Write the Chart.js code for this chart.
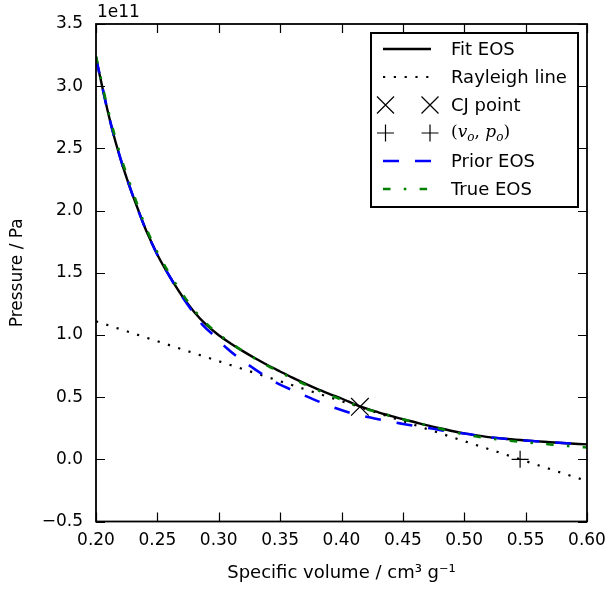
<!DOCTYPE html>
<html><head><meta charset="utf-8">
<script src="https://cdn.jsdelivr.net/npm/chart.js@4.4.0/dist/chart.umd.min.js"></script>
<style>html,body{margin:0;padding:0;background:#fff;}</style>
</head><body>
<canvas id="c" width="610" height="589"></canvas>
<script>
// ---- data (pressure in units of 1e11 Pa) ----
const vFit = [0.200,0.205,0.210,0.215,0.220,0.225,0.230,0.235,0.240,0.245,0.250,0.260,0.270,0.280,0.290,0.300,0.310,0.320,0.330,0.340,0.350,0.360,0.370,0.380,0.390,0.400,0.415,0.430,0.440,0.450,0.460,0.470,0.480,0.490,0.500,0.510,0.520,0.535,0.550,0.565,0.580,0.600];
const pFit = [3.23,3.00,2.78,2.585,2.415,2.26,2.12,1.99,1.86,1.75,1.645,1.47,1.315,1.185,1.08,0.998,0.93,0.868,0.81,0.756,0.706,0.657,0.611,0.567,0.527,0.489,0.426,0.378,0.35,0.323,0.298,0.273,0.25,0.228,0.208,0.192,0.178,0.163,0.151,0.141,0.131,0.12];

const vRayleigh = [0.20, 0.60];
const pRayleigh = [1.11, -0.175];

const vCJ = [0.415];
const pCJ = [0.422];

const vInit = [0.5455];
const pInit = [0.0];

const vPrior = [0.200,0.210,0.220,0.230,0.240,0.250,0.260,0.270,0.280,0.2874,0.297,0.3064,0.316,0.3268,0.3369,0.350,0.3586,0.370,0.3825,0.3974,0.4096,0.4227,0.4347,0.4477,0.460,0.4735,0.487,0.500,0.520,0.550,0.580,0.600];
const pPrior = [3.23,2.78,2.415,2.12,1.86,1.645,1.47,1.31,1.17,1.074,0.988,0.895,0.818,0.742,0.675,0.60,0.562,0.513,0.46,0.404,0.366,0.338,0.312,0.289,0.268,0.248,0.224,0.207,0.178,0.151,0.131,0.12];

const vTrue = [0.200,0.210,0.220,0.230,0.240,0.250,0.260,0.270,0.280,0.290,0.300,0.310,0.320,0.330,0.340,0.350,0.360,0.370,0.380,0.390,0.400,0.415,0.430,0.440,0.450,0.460,0.470,0.480,0.490,0.500,0.510,0.520,0.535,0.550,0.565,0.580,0.600];
const pTrue = [3.24,2.80,2.44,2.15,1.88,1.665,1.49,1.335,1.20,1.09,1.005,0.935,0.868,0.808,0.752,0.70,0.65,0.603,0.558,0.518,0.48,0.422,0.376,0.348,0.322,0.297,0.272,0.247,0.223,0.201,0.184,0.169,0.151,0.137,0.124,0.111,0.095];

const seriesNames = ['Fit EOS', 'Rayleigh line', 'CJ point', '(v_o, p_o)', 'Prior EOS', 'True EOS'];
const xTicks = [0.20,0.25,0.30,0.35,0.40,0.45,0.50,0.55,0.60];
const yTicks = [-0.5,0.0,0.5,1.0,1.5,2.0,2.5,3.0,3.5];
const offsetText = '1e11';
const xTitle = 'Specific volume / cm\u00B3 g\u207B\u00B9';
const yTitle = 'Pressure / Pa';

const pts = (xs, ys) => xs.map((x, i) => ({x: x, y: ys[i]}));
const FONT = 'DejaVu Sans';

const dsStyle = [
  {color:'#000000', width:2.4, dash:[]},
  {color:'#000000', width:2.2, dash:[2.2,8.6]},
  null, null,
  {color:'#0000ff', width:2.6, dash:[16,16]},
  {color:'#008000', width:2.6, dash:[7.5,13.3,2.5,13.3]}
];

function drawX(ctx, cx, cy, r){ ctx.moveTo(cx-r,cy-r); ctx.lineTo(cx+r,cy+r); ctx.moveTo(cx-r,cy+r); ctx.lineTo(cx+r,cy-r); }
function drawPlus(ctx, cx, cy, r){ ctx.moveTo(cx-r,cy); ctx.lineTo(cx+r,cy); ctx.moveTo(cx,cy-r); ctx.lineTo(cx,cy+r); }

const framePlugin = {
  id: 'frame',
  afterDraw(chart){
    const {ctx, chartArea: a, scales: {x, y}} = chart;
    ctx.save();
    ctx.strokeStyle = '#000';
    ctx.lineWidth = 1.2;
    ctx.setLineDash([]);
    ctx.beginPath();
    const TL = 9;
    x.ticks.forEach(t => { const px = Math.round(x.getPixelForValue(t.value)) + 0.5;
      ctx.moveTo(px, a.bottom); ctx.lineTo(px, a.bottom - TL);
      ctx.moveTo(px, a.top); ctx.lineTo(px, a.top + TL); });
    y.ticks.forEach(t => { const py = Math.round(y.getPixelForValue(t.value)) + 0.5;
      ctx.moveTo(a.left, py); ctx.lineTo(a.left + TL, py);
      ctx.moveTo(a.right, py); ctx.lineTo(a.right - TL, py); });
    ctx.stroke();
    ctx.lineWidth = 1.8;
    ctx.strokeRect(a.left, a.top, a.right - a.left, a.bottom - a.top);

    // offset text
    ctx.fillStyle = '#000';
    ctx.font = '17px "' + FONT + '"';
    ctx.textBaseline = 'alphabetic';
    ctx.textAlign = 'left';
    ctx.fillText(offsetText, a.left + 1, a.top - 7.5);

    // legend
    const bx = 371, by = 33, bw = 207, bh = 174;
    ctx.fillStyle = '#fff';
    ctx.fillRect(bx, by, bw, bh);
    ctx.lineWidth = 2;
    ctx.strokeStyle = '#000';
    ctx.strokeRect(bx, by, bw, bh);
    const rows = [49, 77, 105, 133, 161, 189];
    const x0 = 383, x1 = 430, tx = 451;
    seriesNames.forEach((name, i) => {
      const yy = rows[i];
      ctx.save();
      if (dsStyle[i]) {
        const s = dsStyle[i];
        ctx.strokeStyle = s.color; ctx.lineWidth = s.width; ctx.setLineDash(s.dash);
        ctx.beginPath(); ctx.moveTo(x0, yy); ctx.lineTo(x1 + 1, yy); ctx.stroke();
      } else {
        ctx.strokeStyle = '#000'; ctx.lineWidth = 1.2; ctx.setLineDash([]);
        ctx.beginPath();
        if (i === 2) { drawX(ctx, 385.5, yy, 8.5); drawX(ctx, 430, yy, 8.5); }
        else { drawPlus(ctx, 385.5, yy, 8.5); drawPlus(ctx, 430, yy, 8.5); }
        ctx.stroke();
      }
      ctx.restore();
      ctx.fillStyle = '#000';
      ctx.textBaseline = 'middle';
      ctx.textAlign = 'left';
      if (i === 3) {
        // math-style label (v_o, p_o)
        const segs = [
          {t:'(', f:'17px "DejaVu Serif"', dy:0},
          {t:'v', f:'italic 17px "DejaVu Serif"', dy:0},
          {t:'o', f:'italic 12px "DejaVu Serif"', dy:4.5},
          {t:', ', f:'17px "DejaVu Serif"', dy:0},
          {t:'p', f:'italic 17px "DejaVu Serif"', dy:0},
          {t:'o', f:'italic 12px "DejaVu Serif"', dy:4.5},
          {t:')', f:'17px "DejaVu Serif"', dy:0}
        ];
        let cx = tx;
        segs.forEach(s => { ctx.font = s.f; ctx.fillText(s.t, cx, yy + s.dy); cx += ctx.measureText(s.t).width; });
      } else {
        ctx.font = '18px "' + FONT + '"';
        ctx.fillText(name, tx, yy + 1);
      }
    });
    ctx.restore();
  }
};

const tickFont = {family: FONT, size: 17};
const xTitleFont = {family: FONT, size: 18};
const fmtY = v => (v < 0 ? '\u2212' + Math.abs(v).toFixed(1) : v.toFixed(1));

new Chart(document.getElementById('c'), {
  type: 'scatter',
  data: {
    datasets: [
      {label: seriesNames[0], data: pts(vFit, pFit), showLine: true, borderColor: '#000', borderWidth: 2.4, pointRadius: 0, cubicInterpolationMode: 'monotone', order: 6},
      {label: seriesNames[1], data: pts(vRayleigh, pRayleigh), showLine: true, borderColor: '#000', borderWidth: 2.2, borderDash: [2.2, 8.6], pointRadius: 0, order: 5},
      {label: seriesNames[2], data: pts(vCJ, pCJ), showLine: false, pointStyle: 'crossRot', pointRadius: 12.5, borderColor: '#000', backgroundColor: '#000', pointBorderWidth: 1.2, order: 4},
      {label: seriesNames[3], data: pts(vInit, pInit), showLine: false, pointStyle: 'cross', pointRadius: 8.5, borderColor: '#000', backgroundColor: '#000', pointBorderWidth: 1.2, order: 3},
      {label: seriesNames[4], data: pts(vPrior, pPrior), showLine: true, borderColor: '#0000ff', borderWidth: 2.6, borderDash: [16, 16], pointRadius: 0, cubicInterpolationMode: 'monotone', order: 2},
      {label: seriesNames[5], data: pts(vTrue, pTrue), showLine: true, borderColor: '#008000', borderWidth: 2.6, borderDash: [7.5, 13.3, 2.5, 13.3], pointRadius: 0, cubicInterpolationMode: 'monotone', order: 1}
    ]
  },
  options: {
    responsive: false,
    animation: false,
    devicePixelRatio: 1,
    layout: {padding: {top: 24, right: 23, left: 0, bottom: 0}},
    plugins: {legend: {display: false}, tooltip: {enabled: false}},
    scales: {
      x: {
        type: 'linear', min: 0.2, max: 0.6,
        afterBuildTicks: s => { s.ticks = xTicks.map(v => ({value: v})); },
        ticks: {callback: v => v.toFixed(2), font: tickFont, color: '#000', padding: 9, maxRotation: 0, autoSkip: false},
        grid: {display: false, drawTicks: false},
        border: {display: false},
        title: {display: true, text: xTitle, font: xTitleFont, color: '#000', padding: {top: 0, bottom: 4.5}},
        afterFit: s => { s.height = 67.5; s.paddingLeft = 0; s.paddingRight = 0; }
      },
      y: {
        type: 'linear', min: -0.5, max: 3.5,
        afterBuildTicks: s => { s.ticks = yTicks.map(v => ({value: v})); },
        ticks: {callback: v => fmtY(v), font: tickFont, color: '#000', padding: 13, autoSkip: false},
        grid: {display: false, drawTicks: false},
        border: {display: false},
        title: {display: true, text: yTitle, font: tickFont, color: '#000', padding: {top: 7, bottom: 0}},
        afterFit: s => { s.width = 96; s.paddingTop = 0; s.paddingBottom = 0; }
      }
    }
  },
  plugins: [framePlugin]
});
</script>
</body></html>
